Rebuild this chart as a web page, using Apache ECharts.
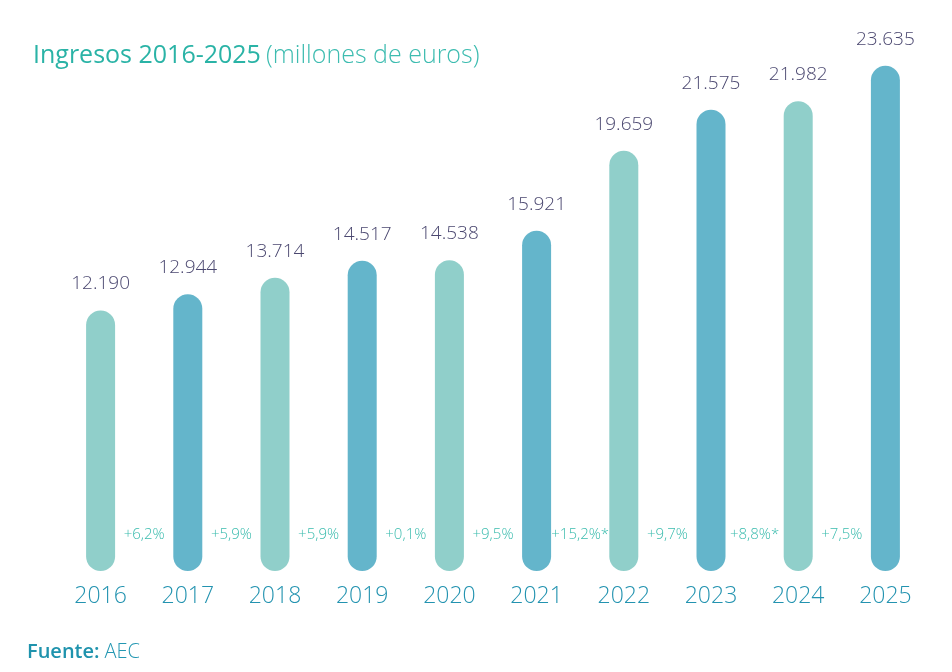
<!DOCTYPE html>
<html>
<head>
	<meta charset="UTF-8">
	<title>Ingresos 2016-2025</title>
	<style>
		html, body { margin: 0; padding: 0; background: #fff; }
		#chart { width: 952px; height: 672px; }
	</style>
</head>
<body>
	<div id="chart"></div>
	<script src="https://cdn.jsdelivr.net/npm/echarts@6/dist/echarts.min.js"></script>
	<script type="text/javascript">
		// datos
		var years = ['2016', '2017', '2018', '2019', '2020', '2021', '2022', '2023', '2024', '2025'];
		var ingresos = [12190, 12944, 13714, 14517, 14538, 15921, 19659, 21575, 21982, 23635];
		// crecimiento respecto al año anterior (se pinta en el hueco tras cada barra)
		var crecimiento = ['+6,2%', '+5,9%', '+5,9%', '+0,1%', '+9,5%', '+15,2%*', '+9,7%', '+8,8%*', '+7,5%', ''];

		var claro = '#90cfca';
		var oscuro = '#64b5cb';
		var font = 'Open Sans';

		function miles(v) {
			return String(v).replace(/\B(?=(\d{3})+(?!\d))/g, '.');
		}

		var chart = echarts.init(document.getElementById('chart'));

		var option = {
			backgroundColor: '#fff',
			animation: false,
			title: [{
				left: 28,
				top: 38,
				text: '{a|Ingresos 2016-2025} {b|(millones de euros)}',
				textStyle: {
					rich: {
						a: { fontFamily: font, fontSize: 25, fontWeight: 500, color: '#2ab3a6' },
						b: { fontFamily: font, fontSize: 25, fontWeight: 300, color: '#3dbcb0' }
					}
				}
			}, {
				left: 22,
				top: 637,
				text: '{a|Fuente:} {b|AEC}',
				textStyle: {
					rich: {
						a: { fontFamily: font, fontSize: 20, fontWeight: 600, color: '#1f93ad' },
						b: { fontFamily: font, fontSize: 20, fontWeight: 300, color: '#2397b2' }
					}
				}
			}],
			grid: {
				left: 57,
				right: 23,
				top: 58,
				bottom: 101
			},
			xAxis: {
				type: 'category',
				data: years,
				axisLine: { show: false },
				axisTick: { show: false },
				axisLabel: {
					margin: 14,
					fontFamily: font,
					fontSize: 23,
					fontWeight: 300,
					color: '#2393b0'
				}
			},
			yAxis: {
				type: 'value',
				min: 0,
				max: 24000,
				show: false,
				splitLine: { show: false }
			},
			series: [{
				type: 'bar',
				barWidth: 29,
				barGap: '-100%',
				data: ingresos.map(function (v, i) {
					return { value: v, itemStyle: { color: i % 2 === 0 ? claro : oscuro } };
				}),
				itemStyle: { borderRadius: 14.5 },
				label: {
					show: true,
					position: 'top',
					distance: 17,
					fontFamily: font,
					fontSize: 19,
					fontWeight: 300,
					color: '#4b4870',
					formatter: function (p) { return miles(p.value); }
				}
			}, {
				type: 'bar',
				barWidth: 29,
				barGap: '-100%',
				silent: true,
				data: ingresos,
				itemStyle: { color: 'rgba(0,0,0,0)' },
				label: {
					show: true,
					position: 'insideBottom',
					distance: 0,
					align: 'center',
					verticalAlign: 'middle',
					offset: [43.6, -36],
					fontFamily: font,
					fontSize: 15,
					fontWeight: 300,
					color: '#3bbcae',
					formatter: function (p) { return crecimiento[p.dataIndex]; }
				}
			}]
		};

		chart.setOption(option);
	</script>
</body>
</html>
